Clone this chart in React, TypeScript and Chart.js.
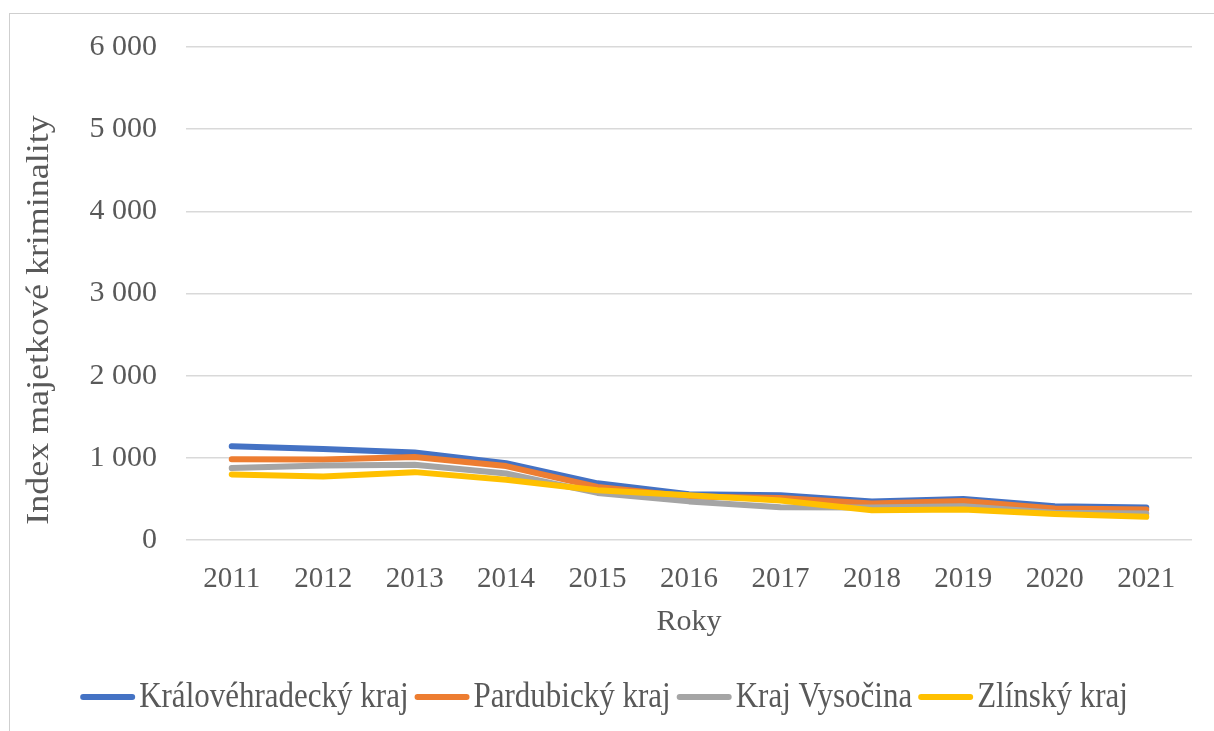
import React, { useEffect, useRef } from "react";
import { Chart, registerables } from "chart.js";

Chart.register(...registerables);

const years = ["2011", "2012", "2013", "2014", "2015", "2016", "2017", "2018", "2019", "2020", "2021"];
const kralovehradecky = [1141, 1109, 1064, 935, 690, 556, 544, 470, 500, 411, 395];
const pardubicky = [984, 980, 1010, 900, 645, 530, 510, 444, 476, 383, 371];
const vysocina = [875, 907, 915, 810, 573, 470, 400, 395, 411, 331, 323];
const zlinsky = [798, 774, 826, 734, 605, 544, 480, 363, 371, 315, 282];
const seriesNames = ["Královéhradecký kraj", "Pardubický kraj", "Kraj Vysočina", "Zlínský kraj"];
const seriesColors = ["#4472C4", "#ED7D31", "#A5A5A5", "#FFC000"];
const yTitle = "Index majetkové kriminality";
const xTitle = "Roky";

const FONT = '"Liberation Serif", "Times New Roman", serif';
const TEXT = "#595959";
const FS = 29;
const FS_LEG = 31;
const STRETCH = 1.16;

const customPlugin = {
  id: "customDecor",
  afterDraw(chart: any) {
    const ctx = chart.ctx;
    ctx.save();
    ctx.fillStyle = TEXT;
    ctx.font = `${FS_LEG}px ${FONT}`;
    // y axis title (stretched along the vertical direction like the reference)
    ctx.save();
    ctx.translate(40, 320);
    ctx.rotate(-Math.PI / 2);
    ctx.scale(STRETCH, 1);
    ctx.textAlign = "center";
    ctx.textBaseline = "middle";
    ctx.fillText(yTitle, 0, 0);
    ctx.restore();
    // legend
    const sample = 55;
    const gap = 4;
    const itemGap = 6;
    const widths = seriesNames.map((n) => ctx.measureText(n).width);
    const total = widths.reduce((a, w) => a + sample + gap + w, 0) + itemGap * (seriesNames.length - 1);
    let x = 604 - total / 2;
    const y = 697;
    ctx.textAlign = "left";
    ctx.textBaseline = "middle";
    seriesNames.forEach((n, i) => {
      ctx.strokeStyle = seriesColors[i];
      ctx.lineWidth = 6;
      ctx.lineCap = "round";
      ctx.beginPath();
      ctx.moveTo(x + 3, y);
      ctx.lineTo(x + sample - 3, y);
      ctx.stroke();
      ctx.fillStyle = TEXT;
      ctx.save();
      ctx.translate(x + sample + gap, y + 1);
      ctx.scale(1, STRETCH);
      ctx.fillText(n, 0, 0);
      ctx.restore();
      x += sample + gap + widths[i] + itemGap;
    });
    ctx.restore();
  },
};

export default function App() {
  const ref = useRef<HTMLCanvasElement>(null);
  useEffect(() => {
    if (!ref.current) return;
    const all = [kralovehradecky, pardubicky, vysocina, zlinsky];
    const chart = new Chart(ref.current, {
      type: "line",
      data: {
        labels: years,
        datasets: all.map((d, i) => ({
          label: seriesNames[i],
          data: d,
          borderColor: seriesColors[i],
          backgroundColor: seriesColors[i],
          borderWidth: 6,
          borderCapStyle: "round",
          borderJoinStyle: "round",
          pointRadius: 0,
          tension: 0,
          order: all.length - i,
        })),
      },
      options: {
        animation: false,
        responsive: false,
        maintainAspectRatio: false,
        layout: { padding: { left: 0, right: 22, top: 44, bottom: 87 } },
        plugins: { legend: { display: false }, tooltip: { enabled: false } },
        scales: {
          x: {
            offset: true,
            grid: { display: false, drawTicks: false },
            border: { display: false },
            ticks: { color: TEXT, font: { family: FONT, size: FS }, padding: 22, maxRotation: 0 },
            title: { display: true, text: xTitle, color: TEXT, font: { family: FONT, size: 30 }, padding: { top: 4, bottom: 4 } },
            afterFit: (s: any) => { s.height = 104; },
          },
          y: {
            min: 0,
            max: 6000,
            grid: { color: "#D9D9D9", lineWidth: 1.5, drawTicks: false },
            border: { display: false },
            ticks: {
              stepSize: 1000,
              color: TEXT,
              font: { family: FONT, size: 30 },
              padding: 29,
              callback: (v: any) => String(v).replace(/\B(?=(\d{3})+(?!\d))/g, " "),
            },
            afterFit: (s: any) => { s.width = 186; },
          },
        },
      },
      plugins: [customPlugin],
    });
    return () => chart.destroy();
  }, []);
  return (
    <div style={{ position: "absolute", left: 0, top: 0, width: 1214, height: 731, background: "#fff", overflow: "hidden" }}>
      <div style={{ position: "absolute", left: 9, top: 13, width: 1220, height: 730, borderLeft: "1.5px solid #CFCFCF", borderTop: "1.5px solid #CFCFCF" }} />
      <canvas ref={ref} width={1214} height={731} style={{ position: "absolute", left: 0, top: 0 }} />
    </div>
  );
}
